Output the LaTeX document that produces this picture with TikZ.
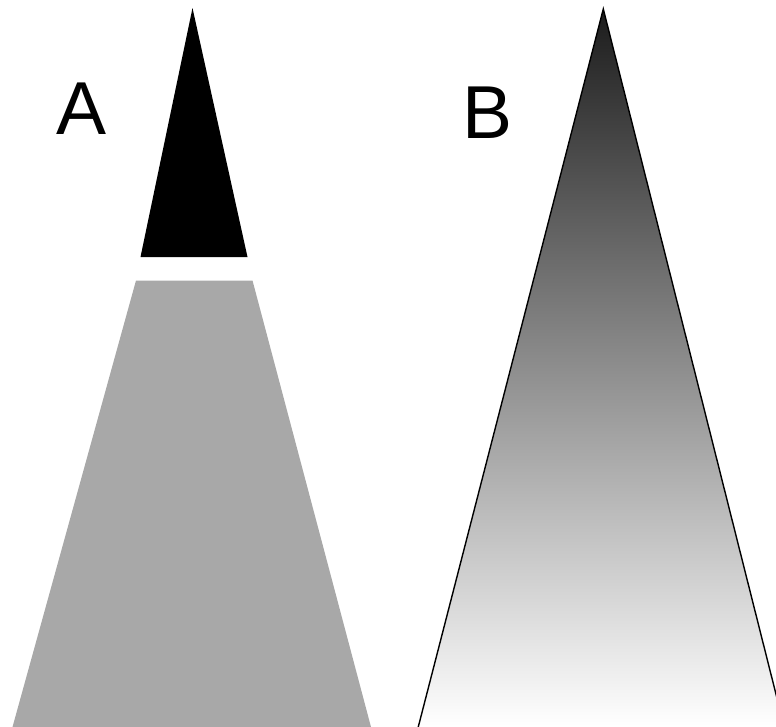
\documentclass[tikz,border=0pt]{standalone}
\usepackage{fontspec}
\setmainfont{Liberation Sans}
\usetikzlibrary{calc}
\begin{document}
\begin{tikzpicture}[x=1pt,y=-1pt,
  label/.style={font=\fontsize{75}{80}\selectfont, inner sep=0pt, anchor=base west},
  solidcone/.style={fill=black},
  beam/.style={fill=black!34},
  fadefill/.style={top color=black!89, bottom color=white},
  fadeedge/.style={draw=black, line width=1.4pt, line join=miter}]
  \useasboundingbox (0,0) rectangle (776,726);
  \clip (0,0) rectangle (776,726);

  % panel A: solid tip and the lighter trapezoid below it
  \fill[solidcone] (192.5,8) -- (247.5,257) -- (140.5,257) -- cycle;
  \fill[beam] (136,280.5) -- (252.5,280.5) -- (371,727) -- (12.5,727) -- cycle;

  % panel B: one cone fading from dark to white, its sides outlined
  \coordinate (apex) at (603.3,9);
  \coordinate (bl) at (418.5,726);
  \coordinate (br) at (784,726);
  \shade[fadefill] (apex) -- (br) -- (bl) -- cycle;
  \draw[fadeedge] ($(apex)!1.03!(bl)$) -- (apex) -- ($(apex)!1.03!(br)$);

  \node[label] (A) at (56,134) {A};
  \node[label] (B) at (462.5,138) {B};
\end{tikzpicture}
\end{document}
